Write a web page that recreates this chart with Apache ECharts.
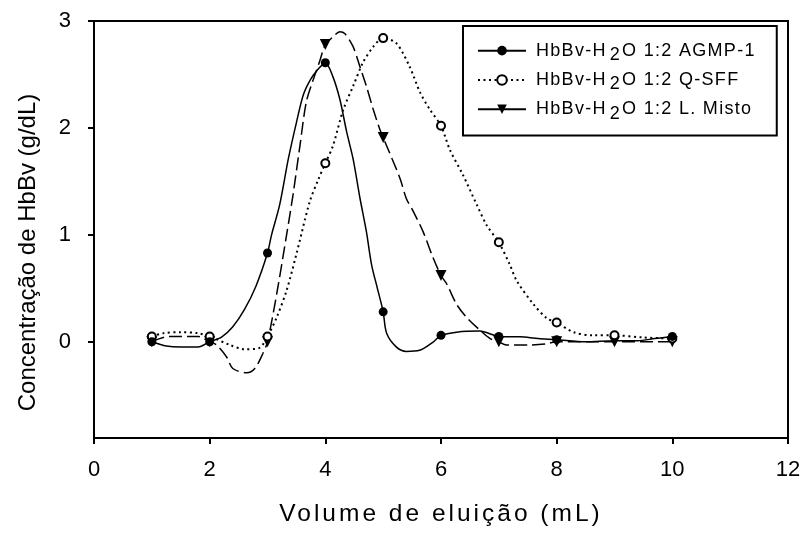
<!DOCTYPE html>
<html>
<head>
<meta charset="utf-8">
<script src="https://cdn.jsdelivr.net/npm/echarts@6/dist/echarts.min.js"></script>
<style>
html,body{margin:0;padding:0;background:#fff;}
#chart{width:804px;height:533px;}
</style>
</head>
<body>
<div id="chart"></div>
<script>
// ---- data ----
const xTicks = [0, 2, 4, 6, 8, 10, 12];
const yTicks = [0, 1, 2, 3];

const seriesNames = ['HbBv-H2O 1:2 AGMP-1', 'HbBv-H2O 1:2 Q-SFF', 'HbBv-H2O 1:2 L. Misto'];

// measured points (markers)
const agmpX  = [1, 2, 3, 4, 5, 6, 7, 8, 10];
const agmpY  = [0, 0, 0.83, 2.61, 0.28, 0.06, 0.05, 0.02, 0.05];
const qsffX  = [1, 2, 3, 4, 5, 6, 7, 8, 9, 10];
const qsffY  = [0.05, 0.05, 0.05, 1.67, 2.84, 2.02, 0.93, 0.18, 0.06, 0.03];
const mistoX = [1, 2, 3, 4, 5, 6, 7, 8, 9, 10];
const mistoY = [0, 0, 0, 2.78, 1.91, 0.62, 0, 0, 0, 0];

// drawn curve between markers
const agmpCurve = [[1.25,-0.04],[1.5,-0.05],[1.8,-0.05],[2.2,0.04],[2.4,0.14],[2.6,0.3],[2.8,0.52],
  [3.07,1.0],[3.21,1.28],[3.36,1.71],[3.5,2.05],[3.62,2.31],[3.74,2.45],[3.86,2.54],
  [4.13,2.48],[4.25,2.27],[4.37,1.96],[4.48,1.71],[4.6,1.34],[4.71,1.03],[4.8,0.72],[4.9,0.5],
  [5.06,0.08],[5.23,-0.05],[5.4,-0.09],[5.63,-0.08],[5.87,0.0],[6.27,0.09],[6.67,0.1],
  [7.37,0.046],[7.68,0.03],[8.5,0.0],[9.0,0.01],[9.4,0.01],[9.7,0.03]];
const qsffCurve = [[1.2,0.08],[1.5,0.09],[1.8,0.08],[2.35,-0.03],[2.6,-0.07],[2.85,-0.06],
  [3.16,0.23],[3.33,0.48],[3.5,0.82],[3.73,1.31],[3.88,1.52],
  [4.13,1.83],[4.31,2.17],[4.48,2.39],[4.65,2.61],[4.83,2.76],
  [5.23,2.79],[5.46,2.57],[5.64,2.33],[5.81,2.17],
  [6.15,1.8],[6.38,1.56],[6.62,1.28],[6.79,1.09],
  [7.19,0.72],[7.31,0.57],[7.6,0.35],[7.83,0.22],
  [8.29,0.09],[8.63,0.06],[9.5,0.04]];
const mistoCurve = [[1.3,0.05],[1.8,0.05],[2.12,-0.03],[2.29,-0.14],[2.4,-0.25],[2.64,-0.29],[2.78,-0.25],[2.92,-0.11],
  [3.16,0.45],[3.33,1.0],[3.44,1.37],[3.56,1.83],[3.67,2.24],[3.79,2.45],[3.9,2.62],
  [4.13,2.85],[4.25,2.9],[4.34,2.88],[4.48,2.76],[4.6,2.57],[4.71,2.39],[4.83,2.17],[4.94,1.99],
  [5.29,1.53],[5.4,1.34],[5.52,1.22],[5.69,1.03],[5.86,0.79],
  [6.1,0.54],[6.27,0.35],[6.44,0.23],[6.67,0.11],[6.85,0.03],
  [7.13,-0.03],[7.5,-0.03],[7.8,-0.02]];

// ---- letter spacing for wide-tracked texts (keyed by font size) ----
(function () {
  const P = CanvasRenderingContext2D.prototype;
  if (!('letterSpacing' in P)) return;
  const table = { '24.5': '3px', '18': '1.3px' };
  function apply(ctx) {
    const m = /(\d+(?:\.\d+)?)px/.exec(ctx.font || '');
    ctx.letterSpacing = (m && table[m[1]]) || '0px';
  }
  const f = P.fillText, s = P.strokeText, mt = P.measureText;
  P.fillText = function () { apply(this); return f.apply(this, arguments); };
  P.strokeText = function () { apply(this); return s.apply(this, arguments); };
  P.measureText = function () { apply(this); return mt.apply(this, arguments); };
})();

const FONT = "'Liberation Sans', Arial, sans-serif";

function buildData(xs, ys, curve) {
  const pts = xs.map((x, i) => ({ value: [x, ys[i]] }));
  curve.forEach(p => pts.push({ value: [p[0], p[1]], symbol: 'none' }));
  pts.sort((a, b) => a.value[0] - b.value[0]);
  return pts;
}

const chart = echarts.init(document.getElementById('chart'), null, { renderer: 'canvas' });

const option = {
  animation: false,
  backgroundColor: '#fff',
  grid: {
    left: 94, right: 16, top: 21, bottom: 90,
    show: true, borderColor: '#000', borderWidth: 2
  },
  legend: {
    orient: 'vertical',
    left: 463, top: 26,
    padding: [15, 21, 12, 14],
    itemGap: 5.5,
    itemWidth: 48, itemHeight: 12,
    borderColor: '#000', borderWidth: 2,
    backgroundColor: '#fff',
    selectedMode: false,
    data: [
      { name: seriesNames[0] },
      { name: seriesNames[1] },
      { name: seriesNames[2], lineStyle: { type: 'solid' } }
    ],
    formatter: function (name) {
      const i = name.indexOf('H2O');
      return '{a|' + name.slice(0, i + 1) + '}{s|2}{a|' + name.slice(i + 2) + '}';
    },
    textStyle: {
      color: '#000', fontFamily: FONT, fontSize: 18, padding: [0, 0, 0, 5],
      rich: {
        a: { fontSize: 18, fontFamily: FONT, color: '#000', lineHeight: 18 },
        s: { fontSize: 18, fontFamily: FONT, color: '#000', padding: [9, 1, 0, 3] }
      }
    }
  },
  xAxis: {
    type: 'value', min: 0, max: 12, interval: 2,
    name: 'Volume de eluição (mL)',
    nameLocation: 'middle', nameGap: 62,
    nameTextStyle: { fontFamily: FONT, fontSize: 24.5, color: '#000' },
    axisLine: { show: true, onZero: false, lineStyle: { color: '#000', width: 2 } },
    axisTick: { show: true, inside: false, length: 6, lineStyle: { color: '#000', width: 2 } },
    axisLabel: {
      margin: 21, fontFamily: FONT, fontSize: 22, color: '#000',
      customValues: xTicks
    },
    splitLine: { show: false }
  },
  yAxis: {
    type: 'value', min: -0.9, max: 3,
    name: 'Concentração de HbBv (g/dL)',
    nameLocation: 'middle', nameGap: 54, nameRotate: 90,
    nameTextStyle: { fontFamily: FONT, fontSize: 24, color: '#000', padding: [0, 46, 0, 0] },
    axisLine: { show: true, onZero: false, lineStyle: { color: '#000', width: 2 } },
    axisTick: { show: true, inside: false, length: 6, lineStyle: { color: '#000', width: 2 }, customValues: yTicks },
    axisLabel: { margin: 23, fontFamily: FONT, fontSize: 22, color: '#000', customValues: yTicks },
    splitLine: { show: false }
  },
  series: [
    {
      name: seriesNames[2], type: 'line', smooth: 0.3,
      data: buildData(mistoX, mistoY, mistoCurve),
      symbol: 'triangle', symbolRotate: 180, symbolSize: 11,
      lineStyle: { color: '#000', width: 1.5, type: [13, 5] },
      itemStyle: { color: '#000' }, z: 2
    },
    {
      name: seriesNames[1], type: 'line', smooth: 0.3,
      data: buildData(qsffX, qsffY, qsffCurve),
      symbol: 'emptyCircle', symbolSize: 8,
      lineStyle: { color: '#000', width: 2, type: [2, 3.5] },
      itemStyle: { color: '#000', borderColor: '#000', borderWidth: 1.5 }, z: 3
    },
    {
      name: seriesNames[0], type: 'line', smooth: 0.3,
      data: buildData(agmpX, agmpY, agmpCurve),
      symbol: 'circle', symbolSize: 9,
      lineStyle: { color: '#000', width: 1.5, type: 'solid' },
      itemStyle: { color: '#000' }, z: 4
    }
  ]
};

chart.setOption(option);
</script>
</body>
</html>
